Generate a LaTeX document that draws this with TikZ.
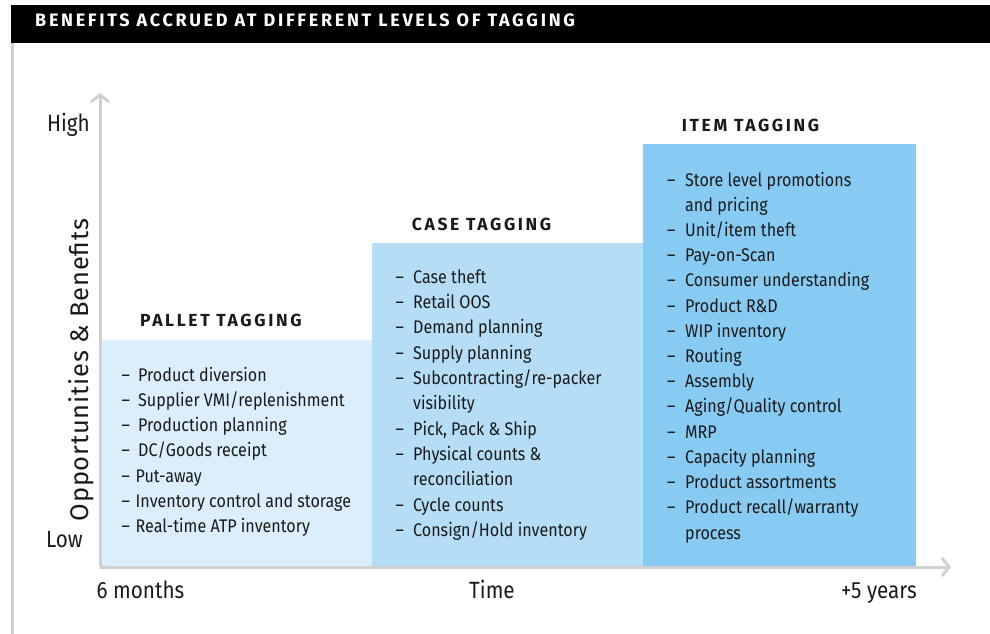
\documentclass[tikz,border=0pt]{standalone}
\usepackage{fontspec}
\setmainfont{Fira Sans}[FakeStretch=0.88]
\newfontfamily\headfont{Fira Sans}[LetterSpace=15]
\newfontfamily\levelfont{Fira Sans}[LetterSpace=15]
\newfontfamily\ylabfont{Fira Sans}[LetterSpace=3]
\usetikzlibrary{arrows.meta}
\definecolor{palletblue}{HTML}{DBEEFB}
\definecolor{caseblue}{HTML}{B5DDF5}
\definecolor{itemblue}{HTML}{88CBF2}
\definecolor{axisgray}{HTML}{D0D0D0}
\definecolor{inkblack}{HTML}{1A1A1A}
\tikzset{
  listtext/.style={inner sep=0pt, anchor=base west, text=inkblack, font=\fontsize{18.3}{20}\selectfont},
  leveltitle/.style={inner sep=0pt, anchor=base west, text=inkblack, font=\levelfont\bfseries\fontsize{17.5}{20}\selectfont},
  axislabel/.style={inner sep=0pt, text=inkblack, font=\fontsize{23.5}{26}\selectfont},
  axisline/.style={draw=axisgray, line width=3pt, -{Straight Barb[length=7pt, width=18pt, line width=3pt]}}
}
\begin{document}
\begin{tikzpicture}[x=1pt, y=-1pt]
\useasboundingbox (0,0) rectangle (990,634);

% header band and left rule
\fill[black] (11,5) rectangle (990,43);
\node[inner sep=0pt, anchor=base west, text=white, font=\headfont\bfseries\fontsize{18}{20}\selectfont]
  (head) at (35,26.7) {BENEFITS ACCRUED AT DIFFERENT LEVELS OF TAGGING};
\draw[axisgray, line width=2.5pt] (12.5,43) -- (12.5,634);

% level blocks
\fill[palletblue] (100,339.5) rectangle (372,567);
\fill[caseblue] (372,243) rectangle (643,567);
\fill[itemblue] (643,144) rectangle (916,567);

% axes
\coordinate (origin) at (100,567);
\coordinate (ytip) at (100,93);
\coordinate (xtip) at (951,567);
\draw[axisline] (origin) -- (ytip);
\draw[axisline] (origin) -- (xtip);

% axis labels
\node[axislabel, anchor=base east] (high) at (90,131) {High};
\node[axislabel, anchor=base east] (low) at (83,547) {Low};
\node[axislabel, anchor=base west] (six) at (96.5,598) {6 months};
\node[axislabel, anchor=base] (time) at (492,598) {Time};
\node[axislabel, anchor=base east] (five) at (917,598) {+5 years};
\node[axislabel, rotate=90, anchor=base, font=\ylabfont\fontsize{25.5}{28}\selectfont] (ylab) at (88.5,370) {Opportunities \& Benefits};

% level titles
\node[leveltitle] (pt) at (140,326.7) {PALLET TAGGING};
\node[leveltitle] (ct) at (411.7,230.7) {CASE TAGGING};
\node[leveltitle] (it) at (681.7,131.7) {ITEM TAGGING};

% pallet list: text x / dash flag / text
\foreach \t/\d/\s [count=\i from 0] in {138/1/Product diversion, 138/1/Supplier VMI\slash replenishment, 138/1/Production planning, 138/1/DC\slash Goods receipt, 135.5/1/Put-away, 135.5/1/Inventory control and storage, 135.5/1/Real-time ATP inventory}{
  \node[listtext] (p\i) at (\t,381+25.33*\i) {\s};
  \ifnum\d=1 \node[listtext] (pd\i) at (121.5,381+25.33*\i) {–}; \fi
}

% case list
\foreach \d/\s [count=\i from 0] in {1/Case theft, 1/Retail OOS, 1/Demand planning, 1/Supply planning, 1/Subcontracting\slash re-packer, 0/visibility, 1/{Pick, Pack \& Ship}, 1/Physical counts \&, 0/reconciliation, 1/Cycle counts, 1/Consign\slash Hold inventory}{
  \node[listtext] (c\i) at (413,283.3+25.33*\i) {\s};
  \ifnum\d=1 \node[listtext] (cd\i) at (395.5,283.3+25.33*\i) {–}; \fi
}

% item list
\foreach \d/\s [count=\i from 0] in {1/Store level promotions, 0/and pricing, 1/Unit\slash item theft, 1/Pay-on-Scan, 1/Consumer understanding, 1/Product R\&D, 1/WIP inventory, 1/Routing, 1/Assembly, 1/Aging\slash Quality control, 1/MRP, 1/Capacity planning, 1/Product assortments, 1/Product recall\slash warranty, 0/process}{
  \node[listtext] (i\i) at (685,186+25.22*\i) {\s};
  \ifnum\d=1 \node[listtext] (id\i) at (667,186+25.22*\i) {–}; \fi
}
\end{tikzpicture}
\end{document}
